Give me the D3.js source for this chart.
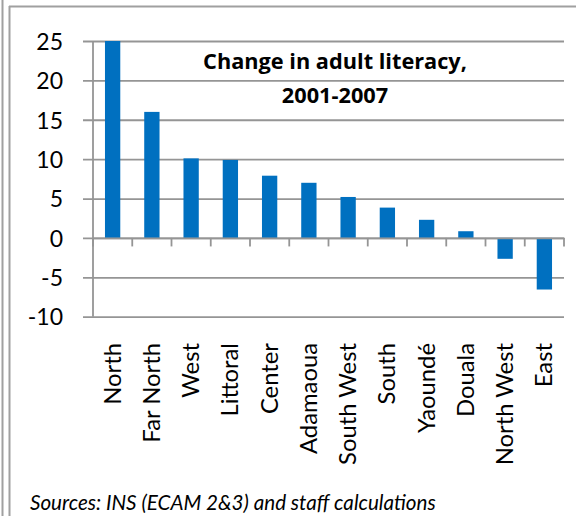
<!DOCTYPE html>
<html><head><meta charset="utf-8">
<script src="https://cdn.jsdelivr.net/npm/d3@7"></script>
<style>
html,body{margin:0;padding:0;background:#fff;}
svg{display:block;}
text{font-family:Lato,"Open Sans",sans-serif;fill:#000;}
</style></head>
<body>
<svg id="chart" width="576" height="516"></svg>
<script>
const categories = ["North","Far North","West","Littoral","Center","Adamaoua","South West","South","Yaoundé","Douala","North West","East"];
const values = [25, 16.0, 10.1, 9.9, 7.9, 7.0, 5.2, 3.85, 2.3, 0.85, -2.65, -6.55];
const yTicks = [-10,-5,0,5,10,15,20,25];
const titleLines = ["Change in adult literacy,","2001-2007"];
const sourceText = "Sources: INS (ECAM 2&3) and staff calculations";

(function(){
const svg = d3.select("#chart");
const pL = 93, pR = 564, pT = 41, pB = 316.7;

function fit(sel, node, target){
  const w = node.getComputedTextLength();
  const fs = parseFloat(sel.attr("font-size"));
  sel.attr("font-size", fs*target/w);
}

// frame
svg.append("line").attr("x1",2.5).attr("x2",2.5).attr("y1",0).attr("y2",516).attr("stroke","#a0a0a0").attr("stroke-width",2);
svg.append("line").attr("x1",9.5).attr("x2",9.5).attr("y1",6).attr("y2",516).attr("stroke","#a0a0a0").attr("stroke-width",2);
svg.append("line").attr("x1",9).attr("x2",576).attr("y1",6.5).attr("y2",6.5).attr("stroke","#a0a0a0").attr("stroke-width",2);

const x = d3.scaleBand().domain(categories).range([pL,pR]).padding(0);
const y = d3.scaleLinear().domain([-10,25]).range([pB,pT]);

// gridlines + y axis
const yAxis = d3.axisLeft(y).tickValues(yTicks).tickSize(-(pR-pL)).tickSizeOuter(0).tickFormat(d=>String(d));
const gy = svg.append("g").attr("transform",`translate(${pL},0)`).call(yAxis);
gy.select(".domain").remove();
gy.selectAll(".tick line").attr("x1",-10).attr("stroke","#959595").attr("stroke-width",1.8);
gy.selectAll(".tick text").attr("font-size",23).attr("fill","#000").attr("dy","0.36em").attr("x",-30);
svg.append("line").attr("x1",pL).attr("x2",pL).attr("y1",pT).attr("y2",pB).attr("stroke","#959595").attr("stroke-width",1.8);

// bars
const bw = x.bandwidth()*0.39;
svg.append("g").selectAll("rect").data(values).join("rect")
  .attr("x",(d,i)=>x(categories[i])+x.bandwidth()/2-bw/2)
  .attr("width",bw)
  .attr("y",d=>y(Math.max(0,d)))
  .attr("height",d=>Math.abs(y(d)-y(0)))
  .attr("fill","#0070C0");

// x axis at zero
const xAxis = d3.axisBottom(x).tickSize(0).tickFormat("");
const gx = svg.append("g").attr("transform",`translate(0,${y(0)})`).call(xAxis);
gx.select(".domain").attr("stroke","#959595").attr("stroke-width",1.8);
const bounds = categories.map(c=>x(c)).concat([pR]);
gx.selectAll(".sep").data(bounds).join("line").attr("class","sep")
  .attr("x1",d=>d).attr("x2",d=>d).attr("y1",0).attr("y2",8.5)
  .attr("stroke","#959595").attr("stroke-width",1.8);

// category labels
const labs = svg.append("g").attr("font-size",22);
const lt = labs.selectAll("text").data(categories).join("text")
  .attr("transform",d=>`translate(${x(d)+x.bandwidth()/2+8},343) rotate(-90)`)
  .attr("text-anchor","end")
  .text(d=>d);
fit(labs, lt.filter(d=>d==="South West").node(), 122);

// title
const tg = svg.append("g").attr("font-weight","bold").attr("font-size",21);
const tt = tg.selectAll("text").data(titleLines).join("text")
  .attr("x",335).attr("y",(d,i)=>69+i*33.7)
  .attr("text-anchor","middle")
  .style("font-family","'Open Sans',sans-serif")
  .text(d=>d);
fit(tg, tt.node(), 264);

// source
const st = svg.append("text").attr("x",30).attr("y",510).attr("font-style","italic").attr("font-size",18).text(sourceText);
fit(st, st.node(), 406);
})();
</script>
</body></html>
